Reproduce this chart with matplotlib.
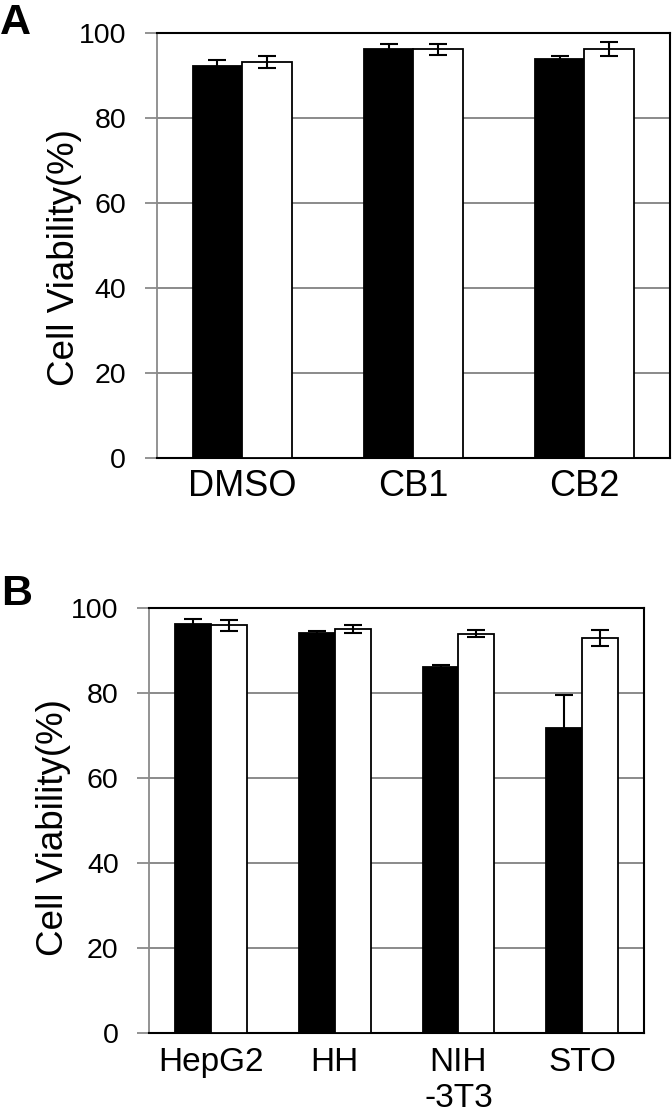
import matplotlib
matplotlib.use("Agg")
import matplotlib.pyplot as plt
import numpy as np

plt.rcParams['font.family'] = ['Liberation Sans', 'DejaVu Sans']

# Panel A data
cats_a = ["DMSO", "CB1", "CB2"]
black_a = [92.1, 96.1, 93.9]
black_a_err = [1.4, 1.3, 0.6]
white_a = [93.1, 96.1, 96.1]
white_a_err = [1.4, 1.3, 1.6]

# Panel B data
cats_b = ["HepG2", "HH", "NIH\n-3T3", "STO"]
black_b = [96.2, 94.1, 86.1, 71.8]
black_b_err = [1.3, 0.6, 0.6, 7.9]
white_b = [96.0, 95.1, 94.0, 93.0]
white_b_err = [1.3, 0.9, 0.8, 1.9]

yticks = [0, 20, 40, 60, 80, 100]

W, H = 672, 1117
fig = plt.figure(figsize=(W / 100, H / 100), dpi=100)

GRAY = "#8a8a8a"


def panel(rect, cats, bvals, berr, wvals, werr, xfs, xpad):
    ax = fig.add_axes(rect)
    x = np.arange(len(cats))
    bw = 0.29
    ax.set_axisbelow(True)
    ax.yaxis.grid(True, color=GRAY, linewidth=1.4)
    ax.bar(x - bw / 2, bvals, bw, color="black", edgecolor="black", linewidth=1.3,
           yerr=berr, error_kw=dict(ecolor="black", elinewidth=1.5, capsize=6.5, capthick=1.5), zorder=3)
    ax.bar(x + bw / 2, wvals, bw, color="white", edgecolor="black", linewidth=1.3,
           yerr=werr, error_kw=dict(ecolor="black", elinewidth=1.5, capsize=6.5, capthick=1.5), zorder=3)
    ax.set_xlim(-0.5, len(cats) - 0.5)
    ax.set_ylim(0, 100)
    ax.set_yticks(yticks)
    ax.set_yticklabels([str(v) for v in yticks], fontsize=20.5)
    ax.tick_params(axis="y", direction="out", length=9, width=1.3, color=GRAY, pad=13)
    ax.set_xticks(x)
    ax.set_xticklabels(cats, fontsize=xfs, linespacing=1.2)
    ax.tick_params(axis="x", length=0, pad=xpad)
    for s in ["top", "right", "bottom"]:
        ax.spines[s].set_color("black")
        ax.spines[s].set_linewidth(1.5)
    ax.spines["left"].set_color(GRAY)
    ax.spines["left"].set_linewidth(1.3)
    ax.set_ylabel("Cell Viability(%)", fontsize=26.5)
    return ax


axA = panel([156.7 / W, 1 - 457.7 / H, (670 - 156.7) / W, 425 / H],
            cats_a, black_a, black_a_err, white_a, white_a_err, 26, 8)
axB = panel([149.3 / W, 1 - 1033.3 / H, (644 - 149.3) / W, 425 / H],
            cats_b, black_b, black_b_err, white_b, white_b_err, 24, 10)

axA.yaxis.set_label_coords(-0.146, 0.47)
axB.yaxis.set_label_coords(-0.158, 0.485)

fig.text(0 / W, 1 - 3 / H, "A", fontsize=31, fontweight="bold", ha="left", va="top")
fig.text(1 / W, 1 - 574 / H, "B", fontsize=31, fontweight="bold", ha="left", va="top")

fig.savefig("out.png", dpi=100)
